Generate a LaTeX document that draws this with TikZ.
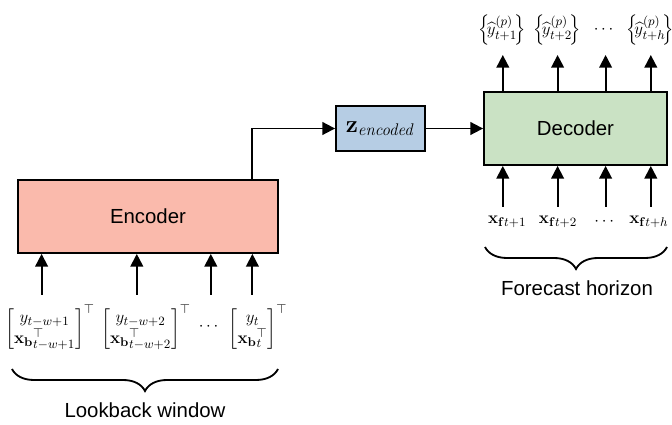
\documentclass[tikz,border=0pt]{standalone}
\usepackage{amsmath}
\usepackage[no-math]{fontspec}
\setmainfont{Liberation Sans}
\usetikzlibrary{arrows.meta,decorations.pathreplacing}

\definecolor{encfill}{RGB}{250,186,172}
\definecolor{zfill}{RGB}{182,205,228}
\definecolor{decfill}{RGB}{202,226,196}

\newcommand{\lbvec}[2]{\left[\begin{matrix} #1 \\ #2 \end{matrix}\right]^{\top}}
\newcommand{\yhat}[1]{\Big\{\!\widehat{y}_{#1}^{(p)}\!\Big\}}

\tikzset{
	block/.style={draw, line width=1.3pt},
	arr/.style={line width=1.3pt, -{Triangle[length=9pt,width=9pt]}},
	txt/.style={font=\fontsize{14.5}{17}\selectfont},
	mth/.style={font=\fontsize{12.5}{14}\selectfont, inner sep=1pt},
	brc/.style={line width=1.3pt, decorate, decoration={brace, mirror, amplitude=0.55cm}},
}

\begin{document}
\begin{tikzpicture}
		\useasboundingbox (0, 0) rectangle (16.8, 10.625);

		% blocks
		\node[block, txt, fill=encfill, minimum width=6.5cm, minimum height=1.825cm] (enc) at (3.7, 5.2125) {Encoder};
		\node[block, fill=zfill, minimum width=2.225cm, minimum height=1.125cm, font=\fontsize{17}{19}\selectfont] (z) at (9.5125, 7.4125) {$\mathbf{z}_{\mathit{encoded}}$};
		\node[block, txt, fill=decfill, minimum width=4.575cm, minimum height=1.825cm] (dec) at (14.3875, 7.4125) {Decoder};

		\coordinate (encout) at (6.3, 6.125);
		\draw[arr] (encout) |- (z.west);
		\draw[arr] (z) -- (dec);

		% lookback window
		\node[mth] (lb1) at (1.25, 2.45) {$\lbvec{y_{t-w+1}}{\mathbf{x}_{\mathbf{b}}{}^{\top}_{t-w+1}}$};
		\node[mth] (lb2) at (3.65, 2.45) {$\lbvec{y_{t-w+2}}{\mathbf{x}_{\mathbf{b}}{}^{\top}_{t-w+2}}$};
		\node[mth] (lbd) at (5.25, 2.45) {$\cdots$};
		\node[mth] (lb3) at (6.45, 2.45) {$\lbvec{y_{t}}{\mathbf{x}_{\mathbf{b}}{}^{\top}_{t}}$};

		\coordinate (in1) at (1.04, 3.25);
		\coordinate (in2) at (3.42, 3.25);
		\coordinate (in3) at (5.27, 3.25);
		\coordinate (in4) at (6.31, 3.25);
		\foreach \c in {in1, in2, in3, in4}{
				\draw[arr] (\c) -- (\c |- enc.south);
			}

		\coordinate (lbl) at (0.3, 1.4);
		\coordinate (lbr) at (6.95, 1.4);
		\draw[brc] (lbl) -- (lbr);
		\node[txt] (lbtxt) at (3.625, 0.375) {Lookback window};

		% forecast horizon
		\node[mth] (fx1) at (12.68, 5.075) {$\mathbf{x}_{\mathbf{f}t+1}$};
		\node[mth] (fx2) at (13.95, 5.075) {$\mathbf{x}_{\mathbf{f}t+2}$};
		\node[mth] (fxd) at (15.14, 5.075) {$\cdots$};
		\node[mth] (fx3) at (16.22, 5.075) {$\mathbf{x}_{\mathbf{f}t+h}$};

		\coordinate (fi1) at (12.57, 5.45);
		\coordinate (fi2) at (13.94, 5.45);
		\coordinate (fi3) at (15.14, 5.45);
		\coordinate (fi4) at (16.27, 5.45);
		\foreach \c in {fi1, fi2, fi3, fi4}{
				\draw[arr] (\c) -- (\c |- dec.south);
			}

		\coordinate (fhl) at (12.125, 4.45);
		\coordinate (fhr) at (16.675, 4.45);
		\draw[brc] (fhl) -- (fhr);
		\node[txt] (fhtxt) at (14.425, 3.425) {Forecast horizon};

		% outputs
		\coordinate (fo1) at (12.57, 9.25);
		\coordinate (fo2) at (13.94, 9.25);
		\coordinate (fo3) at (15.14, 9.25);
		\coordinate (fo4) at (16.27, 9.25);
		\foreach \c in {fo1, fo2, fo3, fo4}{
				\draw[arr] (\c |- dec.north) -- (\c);
			}

		\node[mth] (yh1) at (12.55, 9.88) {$\yhat{t+1}$};
		\node[mth] (yh2) at (13.925, 9.88) {$\yhat{t+2}$};
		\node[mth] (yhd) at (15.125, 9.88) {$\cdots$};
		\node[mth] (yh3) at (16.25, 9.88) {$\yhat{t+h}$};
	\end{tikzpicture}
\end{document}
